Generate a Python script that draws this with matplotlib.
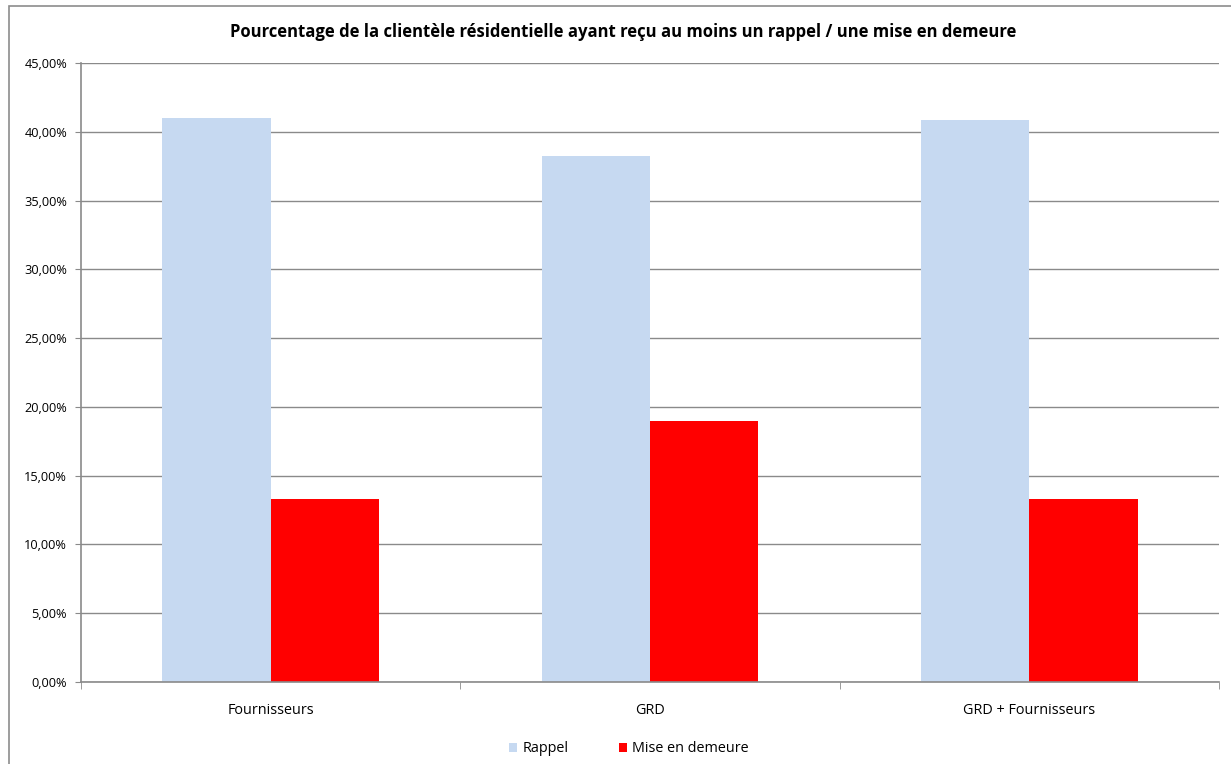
import matplotlib
matplotlib.use("Agg")
from matplotlib import pyplot as plt
from matplotlib.patches import Rectangle
import numpy as np

categories = ["Fournisseurs", "GRD", "GRD + Fournisseurs"]
rappel = [41.0, 38.25, 40.9]
mise_en_demeure = [13.3, 19.0, 13.3]

plt.rcParams["font.family"] = ["Open Sans", "DejaVu Sans"]

fig = plt.figure(figsize=(12.31, 7.64), dpi=100)
ax = fig.add_axes([81 / 1231, 1 - 681.7 / 764, (1219 - 81) / 1231, (681.7 - 63.3) / 764])

# outer frame of the chart
fig.patches.append(Rectangle((9 / 1231, -0.05), 1.0, 1.05 - 6 / 764, transform=fig.transFigure,
                             fill=False, edgecolor="#8c8c8c", linewidth=1.2))

x = np.arange(len(categories))
w = 1 / 3.5
ax.bar(x - w / 2, rappel, w, color="#c6d9f1", label="Rappel", zorder=2)
ax.bar(x + w / 2, mise_en_demeure, w, color="#ff0000", label="Mise en demeure", zorder=2)

ax.set_xlim(-0.5, 2.5)
ax.set_ylim(0, 45)
ax.set_yticks(np.arange(0, 46, 5))
ax.set_yticklabels([f"{v:.2f}%".replace(".", ",") for v in np.arange(0, 46, 5)], fontsize=9.2)
ax.yaxis.grid(True, color="#8a8a8a", linewidth=1, zorder=0)
ax.set_axisbelow(True)

ax.set_xticks(x)
ax.set_xticklabels(categories, fontsize=10.4)
ax.tick_params(axis="x", length=0, pad=15)
ax.set_xticks([-0.5, 0.5, 1.5, 2.5], minor=True)
ax.tick_params(axis="x", which="minor", length=5, color="#8a8a8a", direction="out")
ax.tick_params(axis="y", length=4, color="#8a8a8a", pad=6)

for side in ["top", "right"]:
    ax.spines[side].set_visible(False)
for side in ["left", "bottom"]:
    ax.spines[side].set_color("#8a8a8a")
    ax.spines[side].set_linewidth(1.2)

fig.text(0.506, 1 - 32 / 764, "Pourcentage de la clientèle résidentielle ayant reçu au moins un rappel / une mise en demeure",
         ha="center", va="center", fontsize=12, fontweight="bold")

fig.legend(loc="center", bbox_to_anchor=(0.511, 1 - 749 / 764), ncol=2, frameon=False,
           fontsize=10.4, handlelength=0.55, handleheight=0.55, columnspacing=3.5, handletextpad=0.35)

fig.savefig("out.png", dpi=100)
